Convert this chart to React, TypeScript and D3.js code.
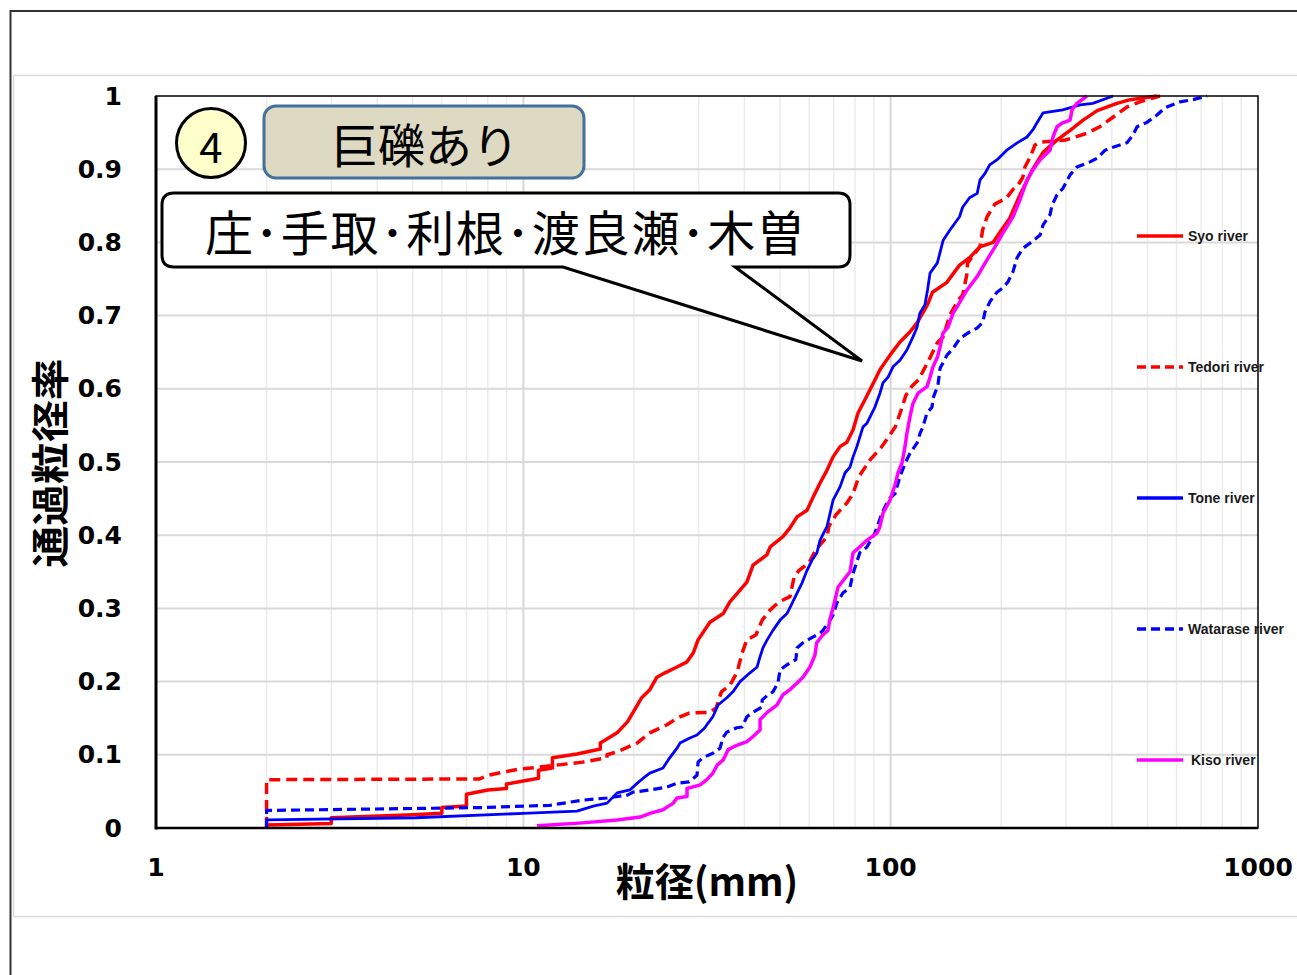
import React from 'react';
import * as d3 from 'd3';

// Cumulative passing fraction vs. grain diameter (mm) for each river
type Pt = [number, number];

const syo: Pt[] = [[2,0],[2,0.004],[3,0.006],[3,0.014],[5,0.018],[6,0.02],[6,0.028],[7,0.03],[7,0.046],[8,0.052],[9,0.054],[9,0.06],[11,0.068],[11,0.079],[12,0.082],[12,0.096],[14,0.101],[16.2,0.108],[16.2,0.116],[18,0.13],[19.2,0.145],[19.9,0.158],[21,0.178],[22.1,0.189],[23.1,0.206],[24.3,0.212],[26.2,0.22],[27.9,0.227],[29,0.239],[29.9,0.257],[32.2,0.281],[35,0.293],[36.5,0.309],[38.9,0.325],[40.6,0.336],[42.2,0.359],[46,0.373],[47,0.384],[50.9,0.398],[53.2,0.41],[55.6,0.425],[59.2,0.434],[61.5,0.452],[64.2,0.471],[67.1,0.489],[69.7,0.507],[72.8,0.521],[76,0.527],[79,0.544],[81.5,0.567],[85.1,0.585],[90.6,0.612],[93.5,0.626],[99.6,0.646],[106,0.664],[113,0.678],[118,0.69],[126,0.715],[130,0.732],[142,0.745],[154,0.769],[164,0.779],[175,0.794],[190,0.8],[199,0.815],[211,0.833],[225,0.865],[243,0.899],[260,0.923],[284,0.94],[308,0.953],[334,0.967],[365,0.98],[413,0.99],[449,0.995],[531,1.0]];

const tedori: Pt[] = [[2,0],[2,0.066],[7.6,0.067],[8,0.072],[9.6,0.08],[11,0.083],[14.5,0.09],[16.9,0.096],[16.9,0.1],[18,0.104],[20.4,0.116],[22.1,0.13],[24.6,0.141],[26.2,0.15],[28.3,0.157],[32.2,0.158],[33.5,0.164],[34.6,0.186],[36.5,0.195],[38.2,0.213],[39.4,0.239],[40.6,0.257],[43,0.264],[44.7,0.284],[47,0.298],[49.7,0.309],[53.2,0.316],[54.6,0.343],[56.3,0.352],[59.9,0.362],[62.5,0.38],[67.1,0.398],[67.9,0.412],[71,0.428],[76,0.444],[79,0.457],[81.9,0.48],[87.9,0.503],[94.6,0.521],[103,0.548],[106,0.566],[110,0.591],[114,0.603],[119,0.612],[127,0.639],[134,0.663],[139,0.671],[145,0.701],[153,0.722],[157,0.728],[161,0.755],[162,0.772],[175,0.794],[178,0.817],[183,0.835],[192,0.852],[207,0.861],[215,0.872],[222,0.878],[229,0.889],[232,0.903],[240,0.917],[247,0.933],[255,0.937],[300,0.94],[342,0.949],[371,0.958],[403,0.971],[440,0.985],[477,0.992],[541,1.0]];

const tone: Pt[] = [[2,0],[2,0.011],[5.1,0.014],[10,0.02],[14,0.023],[15.5,0.03],[16.9,0.034],[18,0.048],[19.5,0.052],[20.4,0.061],[21.2,0.068],[22.1,0.075],[24,0.082],[24.8,0.093],[26.2,0.109],[26.7,0.116],[28.4,0.123],[29.7,0.127],[31.2,0.137],[31.8,0.143],[32.8,0.152],[33.9,0.168],[35.8,0.178],[37.2,0.186],[38.9,0.2],[41.4,0.212],[43.3,0.22],[44.1,0.234],[44.9,0.246],[46.1,0.257],[47.8,0.27],[50,0.284],[52.2,0.293],[53.9,0.307],[55.6,0.321],[57.4,0.335],[59.2,0.352],[61.1,0.366],[63,0.376],[64.2,0.393],[67.1,0.412],[68.4,0.43],[69.7,0.448],[72.8,0.466],[75.1,0.485],[77.5,0.493],[79,0.507],[80.9,0.521],[82.4,0.534],[84.1,0.548],[86.2,0.553],[89,0.567],[90.6,0.575],[93.5,0.594],[95.3,0.608],[98.4,0.616],[101.5,0.63],[106,0.639],[110.7,0.653],[115,0.671],[118,0.684],[120,0.703],[124,0.715],[126,0.735],[128,0.758],[134,0.772],[139,0.803],[145,0.817],[154,0.835],[157,0.848],[164,0.861],[172,0.867],[175,0.885],[181,0.895],[186,0.906],[195,0.913],[207,0.926],[221,0.936],[235,0.944],[244,0.954],[250,0.963],[260,0.977],[294,0.981],[328,0.988],[355,0.99],[388,0.997],[403,1.0]];

const watarase: Pt[] = [[2,0],[2,0.024],[5.7,0.027],[7.8,0.028],[11.8,0.031],[14.5,0.038],[16.9,0.041],[19.2,0.045],[19.9,0.049],[22.1,0.052],[24.6,0.056],[26.2,0.061],[28.3,0.063],[29.7,0.072],[29.9,0.09],[30.8,0.096],[32.8,0.102],[34.3,0.109],[35,0.124],[35.8,0.131],[38.1,0.137],[39.4,0.138],[40.6,0.152],[42.2,0.158],[44.6,0.165],[44.7,0.175],[46.4,0.182],[47.8,0.186],[49.3,0.198],[50,0.216],[52.2,0.223],[55.2,0.23],[55.6,0.246],[57.7,0.253],[61.5,0.261],[64.2,0.266],[65.4,0.27],[68.4,0.284],[69.7,0.291],[71.3,0.307],[74.1,0.321],[77.5,0.329],[79,0.348],[82.4,0.376],[86.2,0.384],[90.6,0.403],[94.7,0.43],[98.4,0.448],[102.8,0.457],[106,0.48],[109.4,0.498],[112.9,0.512],[118,0.526],[120.2,0.539],[122.4,0.548],[125.6,0.567],[129.6,0.575],[130.4,0.587],[134.5,0.605],[136.3,0.628],[142.3,0.646],[147.8,0.655],[154.4,0.669],[164.4,0.678],[171.8,0.683],[178.3,0.691],[180.6,0.705],[186.3,0.719],[194.7,0.732],[202.2,0.738],[208.5,0.746],[215.3,0.76],[220.8,0.779],[229.2,0.792],[242.5,0.801],[255.2,0.81],[260,0.824],[271.6,0.838],[275,0.851],[283.8,0.865],[294.5,0.874],[307.8,0.892],[321.4,0.903],[348.9,0.91],[364.6,0.915],[383.6,0.926],[403,0.93],[439.7,0.936],[457,0.947],[468.6,0.958],[498.5,0.964],[531,0.974],[558.5,0.984],[613.6,0.992],[665.7,0.995],[726.6,1.0]];

const kiso: Pt[] = [[10.9,0.003],[14.5,0.007],[18,0.011],[20.8,0.015],[22.1,0.02],[24,0.025],[25.6,0.034],[26.2,0.041],[27.9,0.043],[27.9,0.054],[30.3,0.059],[31.6,0.066],[32.8,0.075],[33.7,0.086],[35,0.093],[36.1,0.107],[38.1,0.113],[40.6,0.118],[42.2,0.125],[44.1,0.134],[44.1,0.148],[46.1,0.158],[49,0.168],[50.9,0.182],[53.2,0.189],[55.6,0.198],[57.7,0.206],[60.3,0.22],[62.2,0.236],[62.9,0.253],[65.4,0.264],[67.5,0.27],[68.4,0.286],[69.2,0.295],[70.5,0.311],[71.9,0.329],[77.5,0.35],[79,0.376],[82.4,0.384],[86.2,0.393],[91.8,0.403],[93.5,0.412],[95.3,0.43],[99.6,0.448],[102.8,0.469],[104.7,0.485],[107.4,0.499],[109.4,0.521],[110.7,0.539],[112.9,0.562],[115,0.58],[118.7,0.594],[125.6,0.603],[128,0.616],[130.4,0.63],[134,0.643],[136.3,0.657],[138.8,0.676],[143.2,0.684],[147.8,0.703],[151.6,0.712],[161.4,0.735],[171.8,0.753],[182.9,0.776],[192.3,0.794],[202.2,0.813],[215.3,0.835],[224.9,0.858],[235,0.885],[243.9,0.899],[255.2,0.913],[271.6,0.926],[276.6,0.944],[283.8,0.958],[292.6,0.963],[307.8,0.967],[311.7,0.981],[321.4,0.99],[342.3,1.0]];

const seriesNames = ['Syo river', 'Tedori river', 'Tone river', 'Watarase river', 'Kiso river'];
const seriesData = [syo, tedori, tone, watarase, kiso];
const seriesColors = ['#ff0000', '#ff0000', '#0000ff', '#0000ff', '#ff00ff'];
const seriesDash = ['', '11,6', '', '9,5', ''];
const seriesWidth = [3.5, 3.5, 2.8, 3.2, 3.5];

const xTicks = [1, 10, 100, 1000];
const yTicks = [0, 0.1, 0.2, 0.3, 0.4, 0.5, 0.6, 0.7, 0.8, 0.9, 1];

const yTitle = '通過粒径率';
const xTitle = '粒径(mm)';
const badgeNumber = '4';
const badgeLabel = '巨礫あり';
const calloutLabel = '庄･手取･利根･渡良瀬･木曽';

const W = 1297;
const H = 975;
const plot = { left: 156, right: 1258, top: 96, bottom: 828 };

const numFont = '"DejaVu Sans", sans-serif';
const cjkFont = '"Noto Sans CJK JP", sans-serif';

export default function App() {
  const x = d3.scaleLog().domain([1, 1000]).range([plot.left, plot.right]);
  const y = d3.scaleLinear().domain([0, 1]).range([plot.bottom, plot.top]);
  const line = d3
    .line<Pt>()
    .x((d) => x(d[0]))
    .y((d) => y(d[1]));

  // minor log gridlines 2..9 within each decade
  const minor: number[] = [];
  [1, 10, 100].forEach((dec) => {
    for (let k = 2; k <= 9; k++) minor.push(dec * k);
  });
  const major = xTicks.filter((t) => t > 1 && t < 1000);

  const legendY = [236, 367, 498, 629, 760];

  return (
    <svg
      width={W}
      height={H}
      viewBox={`0 0 ${W} ${H}`}
      style={{ position: 'absolute', left: 0, top: 0, background: '#fff' }}
    >
      <rect x={0} y={0} width={W} height={H} fill="#fff" />
      {/* outer frame */}
      <line x1={10} y1={11} x2={W} y2={11} stroke="#333" strokeWidth={2} />
      <line x1={10.5} y1={10} x2={10.5} y2={H} stroke="#333" strokeWidth={2} />
      {/* chart area */}
      <rect x={13.5} y={75.5} width={W} height={841} fill="#fff" stroke="#d9d9d9" strokeWidth={1.5} />

      <defs>
        <clipPath id="plotClip">
          <rect x={plot.left} y={plot.top - 3} width={plot.right - plot.left} height={plot.bottom - plot.top + 3} />
        </clipPath>
      </defs>

      {/* gridlines */}
      {minor.map((v) => (
        <line key={'m' + v} x1={x(v)} x2={x(v)} y1={plot.top} y2={plot.bottom} stroke="#ececec" strokeWidth={1.5} />
      ))}
      {major.map((v) => (
        <line key={'M' + v} x1={x(v)} x2={x(v)} y1={plot.top} y2={plot.bottom} stroke="#d9d9d9" strokeWidth={2} />
      ))}
      {yTicks.slice(1, -1).map((v) => (
        <line key={'h' + v} x1={plot.left} x2={plot.right} y1={y(v)} y2={y(v)} stroke="#d9d9d9" strokeWidth={2} />
      ))}

      {/* curves */}
      <g clipPath="url(#plotClip)">
        {seriesData.map((data, i) => (
          <path
            key={seriesNames[i]}
            d={line(data) || ''}
            fill="none"
            stroke={seriesColors[i]}
            strokeWidth={seriesWidth[i]}
            strokeDasharray={seriesDash[i] || undefined}
            strokeLinejoin="round"
          />
        ))}
      </g>

      {/* plot border */}
      <rect
        x={plot.left}
        y={plot.top}
        width={plot.right - plot.left}
        height={plot.bottom - plot.top}
        fill="none"
        stroke="#000"
        strokeWidth={1.5}
      />
      <line x1={plot.left} x2={plot.left} y1={plot.top} y2={plot.bottom + 1.5} stroke="#000" strokeWidth={3} />
      <line x1={plot.left} x2={plot.right} y1={plot.bottom} y2={plot.bottom} stroke="#000" strokeWidth={2.5} />

      {/* y tick labels */}
      {yTicks.map((v) => (
        <text
          key={'yl' + v}
          x={122}
          y={y(v)}
          textAnchor="end"
          dominantBaseline="central"
          fontFamily={numFont}
          fontWeight="bold"
          fontSize={25}
          fill="#000"
        >
          {d3.format('~g')(v)}
        </text>
      ))}
      {/* x tick labels */}
      {xTicks.map((v) => (
        <text
          key={'xl' + v}
          x={x(v)}
          y={867}
          textAnchor="middle"
          dominantBaseline="central"
          fontFamily={numFont}
          fontWeight="bold"
          fontSize={25}
          fill="#000"
        >
          {String(v)}
        </text>
      ))}

      {/* axis titles */}
      <text
        transform="translate(47,463) rotate(-90)"
        textAnchor="middle"
        dominantBaseline="central"
        fontFamily={cjkFont}
        fontWeight="bold"
        fontSize={38}
        textLength={209}
        lengthAdjust="spacingAndGlyphs"
        fill="#000"
      >
        {yTitle}
      </text>
      <text
        x={707}
        y={879}
        textAnchor="middle"
        dominantBaseline="central"
        fontFamily={cjkFont}
        fontWeight="bold"
        fontSize={39}
        fill="#000"
      >
        {xTitle}
      </text>

      {/* legend */}
      {seriesNames.map((name, i) => (
        <g key={'lg' + name}>
          <line
            x1={1137}
            x2={1183}
            y1={legendY[i]}
            y2={legendY[i]}
            stroke={seriesColors[i]}
            strokeWidth={3.5}
            strokeDasharray={seriesDash[i] ? '9,5' : undefined}
          />
          <text
            x={name === 'Kiso river' ? 1191 : 1188}
            y={legendY[i]}
            dominantBaseline="central"
            fontFamily='"Liberation Sans", Arial, sans-serif'
            fontWeight="bold"
            fontSize={14}
            fill="#1a1a1a"
          >
            {name}
          </text>
        </g>
      ))}

      {/* number badge */}
      <circle cx={211} cy={143} r={34.5} fill="#ffffcc" stroke="#000" strokeWidth={3} />
      <text
        x={211}
        y={144}
        textAnchor="middle"
        dominantBaseline="central"
        fontFamily={cjkFont}
        fontSize={42}
        fill="#000"
      >
        {badgeNumber}
      </text>

      {/* label box */}
      <rect x={264} y={106} width={320} height={72} rx={12} ry={12} fill="#ddd9c3" stroke="#41719c" strokeWidth={3} />
      <text
        x={425}
        y={142}
        textAnchor="middle"
        dominantBaseline="central"
        fontFamily={cjkFont}
        fontSize={47}
        fill="#000"
      >
        {badgeLabel}
      </text>

      {/* callout */}
      <path
        d="M 174 193 L 838 193 Q 850 193 850 205 L 850 255 Q 850 267 838 267 L 735 267 L 862 361 L 563 267 L 174 267 Q 162 267 162 255 L 162 205 Q 162 193 174 193 Z"
        fill="#fff"
        stroke="#000"
        strokeWidth={3}
        strokeLinejoin="miter"
      />
      <text
        x={505}
        y={230}
        textAnchor="middle"
        dominantBaseline="central"
        fontFamily={cjkFont}
        fontSize={48}
        textLength={600}
        lengthAdjust="spacing"
        fill="#000"
      >
        {calloutLabel}
      </text>
    </svg>
  );
}
